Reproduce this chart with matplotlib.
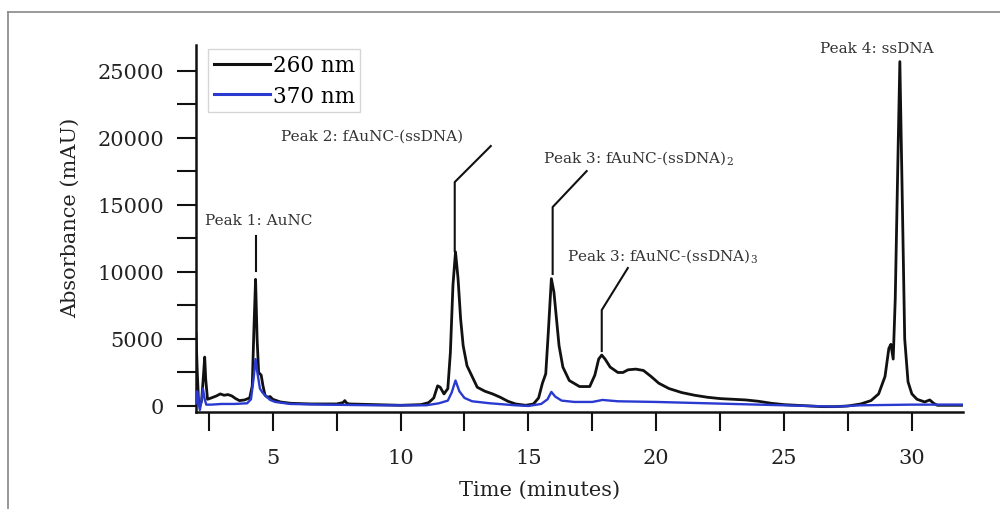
import matplotlib
matplotlib.use("Agg")
import matplotlib.pyplot as plt
from matplotlib.lines import Line2D

plt.rcParams['font.family'] = ['DejaVu Serif']
plt.rcParams['mathtext.fontset'] = 'dejavuserif'

# ---- data ----
t260 = [2.0, 2.05, 2.1, 2.15, 2.22, 2.3, 2.34, 2.38, 2.45, 2.6, 2.8, 2.95, 3.1, 3.25, 3.4,
        3.55, 3.7, 3.9, 4.1, 4.2, 4.27, 4.33, 4.39, 4.45, 4.55, 4.62, 4.7, 4.8, 4.9, 5.0,
        5.3, 5.7, 6.5, 7.0, 7.5, 7.75, 7.82, 7.9, 8.0, 9.0, 10.0, 10.8, 11.1, 11.3, 11.45,
        11.55, 11.7, 11.85, 11.95, 12.05, 12.15, 12.25, 12.35, 12.45, 12.6, 12.8, 13.0,
        13.3, 13.6, 13.9, 14.2, 14.5, 14.9, 15.2, 15.4, 15.55, 15.68, 15.78, 15.9, 16.0,
        16.1, 16.2, 16.35, 16.6, 17.0, 17.4, 17.6, 17.75, 17.87, 18.0, 18.2, 18.5, 18.7,
        18.9, 19.2, 19.5, 19.8, 20.1, 20.5, 21.0, 21.5, 22.0, 22.5, 23.0, 23.5, 24.0, 24.5,
        25.0, 25.5, 26.0, 26.5, 27.0, 27.5, 28.0, 28.4, 28.7, 28.95, 29.1, 29.18, 29.27,
        29.35, 29.45, 29.53, 29.62, 29.72, 29.85, 30.0, 30.2, 30.5, 30.7, 30.85, 31.0,
        31.5, 32.0]
a260 = [5400, 2500, 300, 0, 400, 2500, 3650, 2000, 500, 600, 750, 900, 800, 850, 750,
        550, 400, 450, 600, 1500, 6000, 9450, 5000, 2500, 2300, 1500, 800, 650, 700, 500,
        300, 200, 150, 150, 150, 250, 400, 200, 150, 100, 50, 100, 250, 600, 1500,
        1400, 900, 1300, 4000, 9000, 11500, 9500, 6500, 4500, 3000, 2200, 1400,
        1100, 900, 650, 350, 150, 50, 150, 600, 1700, 2400, 5500, 9500, 8500,
        6500, 4500, 2900, 1900, 1450, 1450, 2300, 3500, 3800, 3500, 2900, 2500, 2500,
        2700, 2750, 2650, 2200, 1700, 1300, 1000, 800, 650, 550, 500, 450, 350, 200,
        100, 50, 0, -50, -50, 0, 150, 400, 900, 2200, 4300, 4600, 3500,
        8000, 18000, 25700, 16000, 5000, 1800, 900, 500, 300, 450, 200, 50,
        50, 50]

t370 = [2.0, 2.05, 2.1, 2.15, 2.22, 2.27, 2.33, 2.4, 2.6, 3.0, 3.5, 4.0, 4.15, 4.25, 4.33,
        4.4, 4.5, 4.6, 4.7, 4.9, 5.1, 5.7, 7.0, 9.0, 11.0, 11.5, 11.85, 12.0, 12.15, 12.3,
        12.5, 12.8, 13.5, 14.5, 15.0, 15.5, 15.75, 15.9, 16.05, 16.3, 16.8, 17.5, 17.9,
        18.5, 20.0, 22.0, 24.0, 25.0, 27.0, 28.0, 30.0, 32.0]
a370 = [200, 1100, 300, -300, 400, 1300, 600, 100, 100, 150, 150, 200, 500, 2000, 3500,
        2500, 1300, 1000, 800, 450, 300, 150, 100, 50, 50, 200, 400, 1000, 1900, 1100,
        600, 350, 200, 50, 0, 150, 500, 1050, 700, 400, 300, 300, 450,
        350, 300, 200, 100, 50, -50, 50, 100, 100]

series_labels = ["260 nm", "370 nm"]
series_colors = ["#111111", "#2a3ad0"]

xticks = [2.5, 5, 7.5, 10, 12.5, 15, 17.5, 20, 22.5, 25, 27.5, 30]
xticklabels = ["", "5", "", "10", "", "15", "", "20", "", "25", "", "30"]
yticks = [0, 2500, 5000, 7500, 10000, 12500, 15000, 17500, 20000, 22500, 25000]
yticklabels = ["0", "", "5000", "", "10000", "", "15000", "", "20000", "", "25000"]

peak_texts = ["Peak 1: AuNC", "Peak 2: fAuNC-(ssDNA)", r"Peak 3: fAuNC-(ssDNA)$_2$",
              r"Peak 3: fAuNC-(ssDNA)$_3$", "Peak 4: ssDNA"]
peak_text_x = [4.45, 8.87, 19.3, 20.25, 28.63]
peak_text_y = [13880, 20140, 18575, 11265, 26700]
# leader lines: (x list, y list)
leader_x = [[4.33, 4.33], [13.53, 12.12, 12.12], [17.28, 15.95, 15.95], [18.89, 17.87, 17.87]]
leader_y = [[12680, 10070], [19400, 16710, 11560], [17530, 14845, 9850], [10295, 7160, 4100]]

# ---- figure ----
W, H = 1000, 510
fig = plt.figure(figsize=(W / 100, H / 100), dpi=100)
L, R, T, B = 196, 963, 46, 413
ax = fig.add_axes([L / W, 1 - B / H, (R - L) / W, (B - T) / H])

ax.plot(t260, a260, color=series_colors[0], lw=2.0, label=series_labels[0], zorder=3)
ax.plot(t370, a370, color=series_colors[1], lw=1.7, label=series_labels[1], zorder=4)

ax.set_xlim(2.0, 32.0)
ax.set_ylim(-450, 26940)

for s in ["top", "right"]:
    ax.spines[s].set_visible(False)
for s in ["left", "bottom"]:
    ax.spines[s].set_linewidth(1.8)
    ax.spines[s].set_color("#111111")

ax.set_xticks(xticks)
ax.set_xticklabels(xticklabels)
ax.set_yticks(yticks)
ax.set_yticklabels(yticklabels)
ax.tick_params(axis="x", direction="out", length=14, width=1.5, pad=12,
               labelsize=15, colors="#111111", labelcolor="#222222")
ax.tick_params(axis="y", direction="out", length=14, width=1.5, pad=9,
               labelsize=15, colors="#111111", labelcolor="#222222")

ax.set_xlabel("Time (minutes)", fontsize=15, color="#222222")
ax.xaxis.set_label_coords((540 - L) / (R - L), (B - 490) / (B - T), transform=ax.transAxes)
ax.xaxis.label.set_va("center")
ax.set_ylabel("Absorbance (mAU)", fontsize=15, color="#222222")
ax.yaxis.set_label_coords((70 - L) / (R - L), (B - 218) / (B - T), transform=ax.transAxes)
ax.yaxis.label.set_va("center")

leg = ax.legend(loc="upper left", bbox_to_anchor=(0.016, 0.99), fontsize=15.5,
                handlelength=2.6, handletextpad=0.15, borderpad=0.25, labelspacing=0.4,
                borderaxespad=0.0, fancybox=False, frameon=True)
leg.get_frame().set_edgecolor("#cccccc")
leg.get_frame().set_linewidth(1.0)
for ln in leg.get_lines():
    ln.set_linewidth(2.2)

for txt, x, y in zip(peak_texts, peak_text_x, peak_text_y):
    ax.text(x, y, txt, fontsize=11, ha="center", va="center", color="#333333")
for xs, ys in zip(leader_x, leader_y):
    ax.plot(xs, ys, color="#111111", lw=1.5, zorder=5)

# outer frame lines of the picture
fig.add_artist(Line2D([8 / W, 8 / W], [0, 1 - 13 / H], color="#888888", lw=1.2))
fig.add_artist(Line2D([8 / W, 1], [1 - 13 / H, 1 - 13 / H], color="#888888", lw=1.2))

fig.savefig("out.png", dpi=100, facecolor="white")
